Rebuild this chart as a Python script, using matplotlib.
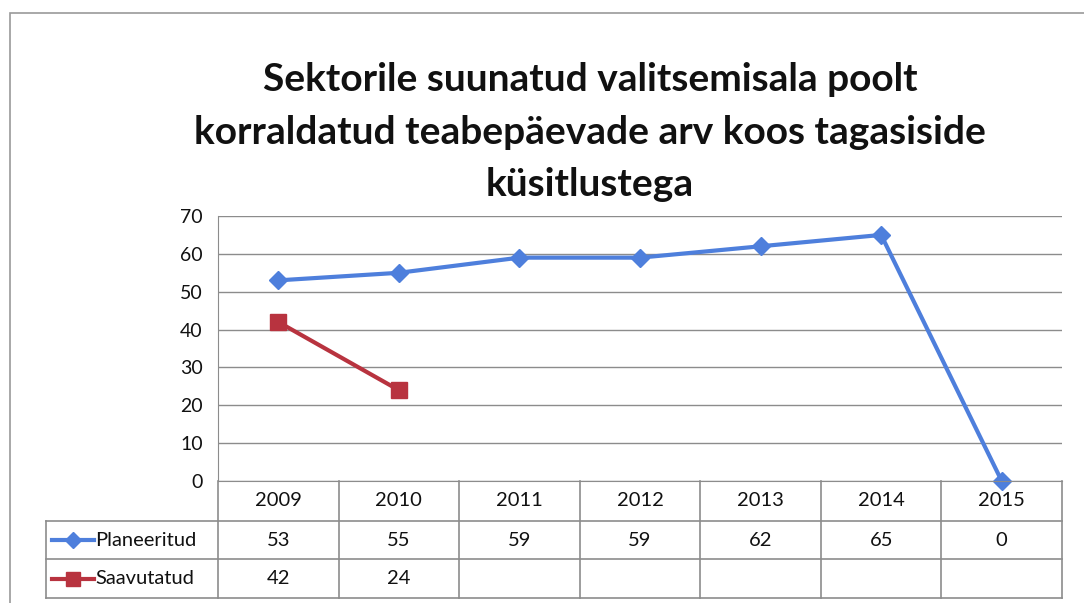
import matplotlib.pyplot as plt
from matplotlib.patches import Rectangle
from matplotlib.lines import Line2D

plt.rcParams['font.family'] = ['Lato', 'DejaVu Sans']

years = ['2009', '2010', '2011', '2012', '2013', '2014', '2015']
planeeritud = [53, 55, 59, 59, 62, 65, 0]
saavutatud = [42, 24, None, None, None, None, None]
series_names = ['Planeeritud', 'Saavutatud']
title = 'Sektorile suunatud valitsemisala poolt\nkorraldatud teabepäevade arv koos tagasiside\nküsitlustega'

blue = '#4E7FDC'
red = '#B8333F'
grid_c = '#8c8c8c'
txt_c = '#111111'

W, H = 1084, 603
fig = plt.figure(figsize=(W / 100, H / 100), dpi=100)


def fx(px):
    return px / W


def fy(py):
    return 1 - py / H


# outer chart frame
fig.patches.append(Rectangle((fx(10), fy(640)), fx(1120) - fx(10), fy(13) - fy(640),
                             transform=fig.transFigure, fill=False, ec='#9a9a9a', lw=1.2))

fig.text(fx(590), fy(132), title, ha='center', va='center', fontsize=28,
         fontweight='bold', linespacing=1.6, color=txt_c)

left, right, top, bottom = 218, 1062, 216, 481
ax = fig.add_axes([fx(left), fy(bottom), fx(right) - fx(left), fy(top) - fy(bottom)])
x = list(range(len(years)))
ax.plot(x, planeeritud, color=blue, lw=3, marker='D', ms=9, mfc=blue, mec=blue)
sx = [i for i, v in enumerate(saavutatud) if v is not None]
sv = [v for v in saavutatud if v is not None]
ax.plot(sx, sv, color=red, lw=3, marker='s', ms=11, mfc=red, mec=red)
ax.set_xlim(-0.5, 6.5)
ax.set_ylim(0, 70)
ax.set_yticks(range(0, 71, 10))
ax.yaxis.grid(True, color=grid_c, lw=1)
ax.set_axisbelow(True)
ax.set_xticks([])
ax.tick_params(axis='y', length=0, labelsize=14, pad=11, colors=txt_c)
for s in ['top', 'right']:
    ax.spines[s].set_visible(False)
ax.spines['left'].set_color(grid_c)
ax.spines['bottom'].set_color(grid_c)
for ln in ax.get_lines():
    ln.set_clip_on(False)

# data table below the plot
col_w = (right - left) / len(years)
leg_left = 46
row_y = [481, 521, 559, 598]
tab = fig.add_axes([fx(leg_left), fy(row_y[-1]), fx(right) - fx(leg_left), fy(row_y[0]) - fy(row_y[-1])])
x0 = -0.5 - (left - leg_left) / col_w
tab.set_xlim(x0, 6.5)
tab.set_ylim(row_y[-1], row_y[0])
tab.axis('off')
lc = '#8c8c8c'
for yy in row_y[1:]:
    tab.plot([x0, 6.5], [yy, yy], color=lc, lw=1.2, clip_on=False)
for i in range(len(years) + 1):
    tab.plot([i - 0.5, i - 0.5], [row_y[0], row_y[-1]], color=lc, lw=1.2, clip_on=False)
tab.plot([x0, x0], [row_y[1], row_y[-1]], color=lc, lw=1.2, clip_on=False)

fs = 14.5
for i, yr in enumerate(years):
    tab.text(i, (row_y[0] + row_y[1]) / 2, yr, ha='center', va='center', fontsize=fs, color=txt_c)
    tab.text(i, (row_y[1] + row_y[2]) / 2, str(planeeritud[i]), ha='center', va='center',
             fontsize=fs, color=txt_c)
    if saavutatud[i] is not None:
        tab.text(i, (row_y[2] + row_y[3]) / 2, str(saavutatud[i]), ha='center', va='center',
                 fontsize=fs, color=txt_c)

styles = [(blue, 'D', 8), (red, 's', 10)]
for k, name in enumerate(series_names):
    yc = (row_y[k + 1] + row_y[k + 2]) / 2
    c, m, ms = styles[k]
    a = x0 + 0.05
    b = x0 + 0.4
    tab.add_line(Line2D([a, b], [yc, yc], color=c, lw=3, clip_on=False))
    tab.add_line(Line2D([(a + b) / 2], [yc], color=c, marker=m, ms=ms, mfc=c, mec=c, clip_on=False))
    tab.text(b + 0.01, yc, name, ha='left', va='center', fontsize=fs, color=txt_c)

fig.savefig('out.png', dpi=100)
